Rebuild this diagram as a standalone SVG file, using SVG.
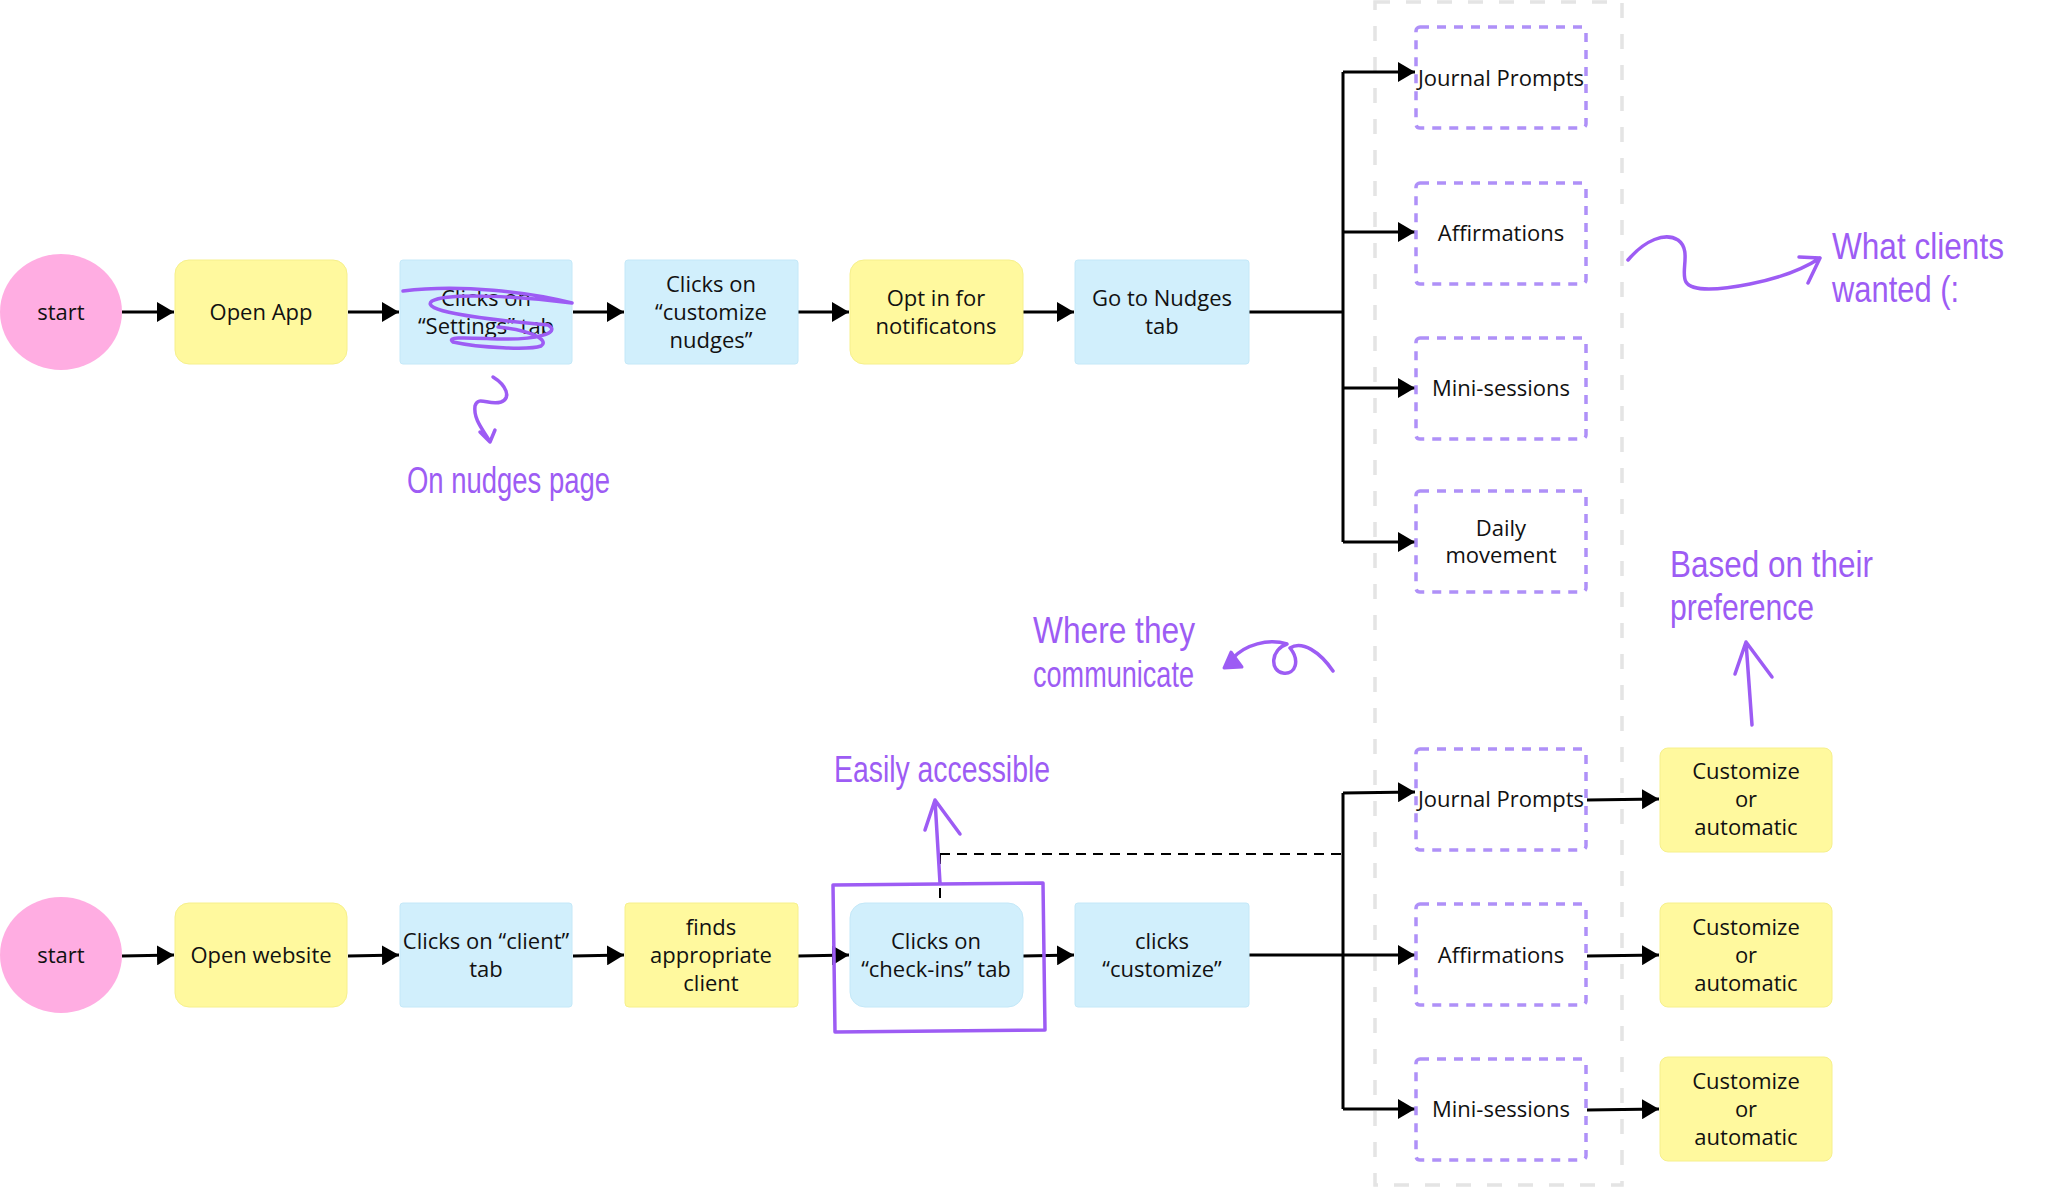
<svg xmlns="http://www.w3.org/2000/svg" width="2048" height="1188" viewBox="0 0 2048 1188">
<style>
  .t { font-family: "Open Sans", "Noto Sans", "Liberation Sans", sans-serif; font-size: 22px; fill: #111; text-anchor: middle; }
  .yel { fill: #FFF99E; stroke: #F6F08C; stroke-width: 1; }
  .blu { fill: #D1EFFC; stroke: #C4E8F8; stroke-width: 1; }
  .pnk { fill: #FFADE2; }
  .opt { fill: none; stroke: #AF90F8; stroke-width: 3.5; stroke-dasharray: 9 8; }
  .col { fill: none; stroke: #E4E4E4; stroke-width: 3.5; stroke-dasharray: 15 16; }
  .ln { fill: none; stroke: #000; stroke-width: 3; }
  .dash { fill: none; stroke: #000; stroke-width: 2; stroke-dasharray: 10 7; }
  .pp { fill: none; stroke: #9D5CF4; stroke-width: 3.5; stroke-linecap: round; stroke-linejoin: round; }
  .hw { font-family: "Liberation Sans", "DejaVu Sans", sans-serif; fill: #9D5CF4; font-size: 36px; }
</style>
<defs>
  <marker id="ah" markerUnits="userSpaceOnUse" markerWidth="18" markerHeight="20" refX="17" refY="10" orient="auto">
    <path d="M0,0 L17,10 L0,20 Z" fill="#000"/>
  </marker>
</defs>
<rect width="2048" height="1188" fill="#fff"/>

<!-- background dashed column -->
<rect class="col" x="1375" y="2" width="247" height="1183"/>

<!-- connectors -->
<g id="connectors">
  <path class="ln" d="M122,312 L174,312" marker-end="url(#ah)"/>
  <path class="ln" d="M348,312 L399,312" marker-end="url(#ah)"/>
  <path class="ln" d="M573,312 L624,312" marker-end="url(#ah)"/>
  <path class="ln" d="M798,312 L849,312" marker-end="url(#ah)"/>
  <path class="ln" d="M1023,312 L1074,312" marker-end="url(#ah)"/>
  <path class="ln" d="M1249,312 L1343,312"/>
  <path class="ln" d="M1343,72 L1343,542"/>
  <path class="ln" d="M1343,72 L1415,72" marker-end="url(#ah)"/>
  <path class="ln" d="M1343,232 L1415,232" marker-end="url(#ah)"/>
  <path class="ln" d="M1343,388 L1415,388" marker-end="url(#ah)"/>
  <path class="ln" d="M1343,542 L1415,542" marker-end="url(#ah)"/>

  <path class="ln" d="M122,956 L174,955" marker-end="url(#ah)"/>
  <path class="ln" d="M348,956 L399,955" marker-end="url(#ah)"/>
  <path class="ln" d="M573,956 L624,955" marker-end="url(#ah)"/>
  <path class="ln" d="M798,956 L849,955" marker-end="url(#ah)"/>
  <path class="ln" d="M1023,956 L1074,955" marker-end="url(#ah)"/>
  <path class="ln" d="M1249,955 L1343,955"/>
  <path class="ln" d="M1343,793 L1343,1109"/>
  <path class="ln" d="M1343,793 L1415,792" marker-end="url(#ah)"/>
  <path class="ln" d="M1343,955 L1415,955" marker-end="url(#ah)"/>
  <path class="ln" d="M1343,1109 L1415,1109" marker-end="url(#ah)"/>
  <path class="ln" d="M1587,800 L1659,799" marker-end="url(#ah)"/>
  <path class="ln" d="M1587,956 L1659,955" marker-end="url(#ah)"/>
  <path class="ln" d="M1587,1110 L1659,1109" marker-end="url(#ah)"/>

  <path class="dash" d="M940,854 L1343,854"/>
  <path class="dash" d="M940,854 L940,903"/>
</g>

<!-- top row -->
<g id="start-top">
  <ellipse class="pnk" cx="61" cy="312" rx="61" ry="58"/>
  <text class="t" x="61" y="320">start</text>
</g>
<g id="open-app">
  <rect class="yel" x="175" y="260" width="172" height="104" rx="14"/>
  <text class="t" x="261" y="320">Open App</text>
</g>
<g id="settings-tab">
  <rect class="blu" x="400" y="260" width="172" height="104" rx="3"/>
  <text class="t" x="486" y="306">Clicks on</text>
  <text class="t" x="486" y="334">“Settings” tab</text>
</g>
<g id="customize-nudges">
  <rect class="blu" x="625" y="260" width="173" height="104" rx="3"/>
  <text class="t" x="711" y="292">Clicks on</text>
  <text class="t" x="711" y="320">“customize</text>
  <text class="t" x="711" y="348">nudges”</text>
</g>
<g id="opt-in">
  <rect class="yel" x="850" y="260" width="173" height="104" rx="14"/>
  <text class="t" x="936" y="306">Opt in for</text>
  <text class="t" x="936" y="334">notificatons</text>
</g>
<g id="nudges-tab">
  <rect class="blu" x="1075" y="260" width="174" height="104" rx="3"/>
  <text class="t" x="1162" y="306">Go to Nudges</text>
  <text class="t" x="1162" y="334">tab</text>
</g>

<g id="journal-top">
  <rect class="opt" x="1416" y="27" width="170" height="101" rx="4"/>
  <text class="t" x="1501" y="86">Journal Prompts</text>
</g>
<g id="affirm-top">
  <rect class="opt" x="1416" y="183" width="170" height="101" rx="4"/>
  <text class="t" x="1501" y="241">Affirmations</text>
</g>
<g id="mini-top">
  <rect class="opt" x="1416" y="338" width="170" height="101" rx="4"/>
  <text class="t" x="1501" y="396">Mini-sessions</text>
</g>
<g id="daily-top">
  <rect class="opt" x="1416" y="491" width="170" height="101" rx="4"/>
  <text class="t" x="1501" y="536">Daily</text>
  <text class="t" x="1501" y="563">movement</text>
</g>

<!-- bottom row -->
<g id="start-bottom">
  <ellipse class="pnk" cx="61" cy="955" rx="61" ry="58"/>
  <text class="t" x="61" y="963">start</text>
</g>
<g id="open-website">
  <rect class="yel" x="175" y="903" width="172" height="104" rx="14"/>
  <text class="t" x="261" y="963">Open website</text>
</g>
<g id="client-tab">
  <rect class="blu" x="400" y="903" width="172" height="104" rx="3"/>
  <text class="t" x="486" y="949">Clicks on “client”</text>
  <text class="t" x="486" y="977">tab</text>
</g>
<g id="finds-client">
  <rect class="yel" x="625" y="903" width="173" height="104" rx="4"/>
  <text class="t" x="711" y="935">finds</text>
  <text class="t" x="711" y="963">appropriate</text>
  <text class="t" x="711" y="991">client</text>
</g>
<g id="checkins-tab">
  <rect class="blu" x="850" y="903" width="173" height="104" rx="15"/>
  <text class="t" x="936" y="949">Clicks on</text>
  <text class="t" x="936" y="977">“check-ins” tab</text>
</g>
<g id="clicks-customize">
  <rect class="blu" x="1075" y="903" width="174" height="104" rx="3"/>
  <text class="t" x="1162" y="949">clicks</text>
  <text class="t" x="1162" y="977">“customize”</text>
</g>

<g id="journal-bottom">
  <rect class="opt" x="1416" y="749" width="170" height="101" rx="4"/>
  <text class="t" x="1501" y="807">Journal Prompts</text>
</g>
<g id="affirm-bottom">
  <rect class="opt" x="1416" y="904" width="170" height="101" rx="4"/>
  <text class="t" x="1501" y="963">Affirmations</text>
</g>
<g id="mini-bottom">
  <rect class="opt" x="1416" y="1059" width="170" height="101" rx="4"/>
  <text class="t" x="1501" y="1117">Mini-sessions</text>
</g>
<g id="custom-1">
  <rect class="yel" x="1660" y="748" width="172" height="104" rx="8"/>
  <text class="t" x="1746" y="779">Customize</text>
  <text class="t" x="1746" y="807">or</text>
  <text class="t" x="1746" y="835">automatic</text>
</g>
<g id="custom-2">
  <rect class="yel" x="1660" y="903" width="172" height="104" rx="8"/>
  <text class="t" x="1746" y="935">Customize</text>
  <text class="t" x="1746" y="963">or</text>
  <text class="t" x="1746" y="991">automatic</text>
</g>
<g id="custom-3">
  <rect class="yel" x="1660" y="1057" width="172" height="104" rx="8"/>
  <text class="t" x="1746" y="1089">Customize</text>
  <text class="t" x="1746" y="1117">or</text>
  <text class="t" x="1746" y="1145">automatic</text>
</g>

<!-- annotations -->
<g id="annotations">
  <path class="pp" d="M403,291 C460,284 530,292 572,303 C525,297 450,292 432,301 C420,310 470,318 548,325 C562,333 535,340 500,339 C470,338 445,336 453,342 C480,348 530,350 541,346 C550,340 530,330 498,327"/>
  <path class="pp" d="M493,377 C506,385 512,398 501,402 C489,406 478,395 475,406 C473,420 485,432 490,442 M480,432 L490,442 L495,430"/>
  <text class="hw" x="407" y="493" textLength="203" lengthAdjust="spacingAndGlyphs">On nudges page</text>

  <path class="pp" d="M1628,260 C1645,240 1665,232 1678,240 C1692,250 1680,272 1686,282 C1692,292 1720,290 1750,284 C1780,278 1805,268 1820,258 M1799,257 L1820,258 L1808,283"/>
  <text class="hw" x="1832" y="259" font-size="34" textLength="172" lengthAdjust="spacingAndGlyphs">What clients</text>
  <text class="hw" x="1832" y="302" textLength="127" lengthAdjust="spacingAndGlyphs">wanted (:</text>

  <text class="hw" x="1670" y="577" textLength="203" lengthAdjust="spacingAndGlyphs">Based on their</text>
  <text class="hw" x="1670" y="620" textLength="144" lengthAdjust="spacingAndGlyphs">preference</text>
  <path class="pp" d="M1752,725 L1746,642 M1735,674 L1746,642 L1772,677"/>

  <text class="hw" x="1033" y="643" textLength="162" lengthAdjust="spacingAndGlyphs">Where they</text>
  <text class="hw" x="1033" y="687" textLength="161" lengthAdjust="spacingAndGlyphs">communicate</text>
  <path class="pp" d="M1333,671 C1320,652 1302,640 1290,648 C1300,660 1296,675 1283,673 C1270,671 1270,650 1287,644 C1268,638 1245,645 1233,658"/>
  <path d="M1224,668 L1231,652 L1242,667 Z" fill="#9D5CF4" stroke="#9D5CF4" stroke-width="3" stroke-linejoin="round"/>

  <text class="hw" x="834" y="782" textLength="216" lengthAdjust="spacingAndGlyphs">Easily accessible</text>
  <path class="pp" d="M940,883 L935,800 M925,830 L935,800 L960,834"/>
  <path class="pp" d="M833,885 L1043,883 L1045,1030 L835,1032 Z"/>
</g>
</svg>
